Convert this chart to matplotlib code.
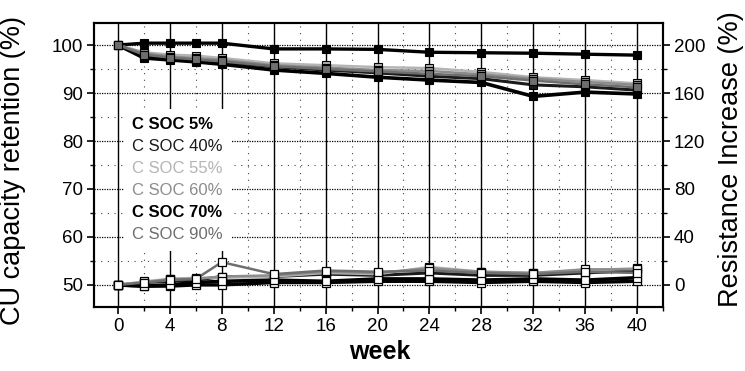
import matplotlib
matplotlib.use("Agg")
import matplotlib.pyplot as plt
from matplotlib.lines import Line2D
from matplotlib.ticker import MultipleLocator

plt.rcParams["font.family"] = ["Liberation Sans", "DejaVu Sans"]

# semaines de mesure
weeks = [0, 2, 4, 6, 8, 12, 16, 20, 24, 28, 32, 36, 40]

labels = ["C SOC 5%", "C SOC 40%", "C SOC 55%", "C SOC 60%", "C SOC 70%", "C SOC 90%"]

# retention de capacite (%)
cap_soc5 = [100, 100.4, 100.4, 100.4, 100.4, 99.2, 99.2, 99.1, 98.5, 98.4, 98.3, 98.1, 97.9]
cap_soc40 = [100, 97.8, 97.3, 96.9, 96.5, 95.5, 94.8, 94.2, 93.5, 93.0, 91.7, 91.3, 90.6]
cap_soc55 = [100, 98.5, 98.0, 97.8, 97.3, 96.2, 95.8, 95.4, 95.2, 94.4, 93.3, 92.7, 92.0]
cap_soc60 = [100, 98.3, 97.6, 97.3, 96.9, 95.8, 95.3, 94.8, 94.6, 93.9, 93.0, 92.3, 91.7]
cap_soc70 = [100, 97.3, 96.9, 96.5, 96.0, 94.8, 94.1, 93.3, 92.7, 92.2, 89.3, 90.2, 89.8]
cap_soc90 = [100, 98.0, 97.4, 97.0, 96.6, 95.6, 95.0, 94.5, 94.0, 93.5, 92.6, 91.8, 91.2]

# augmentation de resistance (%)
res_soc5 = [0, -1, -1, 0, 0, 2, 2, 3, 3, 2, 3, 2, 3]
res_soc40 = [0, 2, 3, 4, 7, 7, 9, 8, 10, 8, 8, 10, 12]
res_soc55 = [0, 3, 5, 6, 6, 7, 10, 9, 15, 11, 10, 12, 14]
res_soc60 = [0, 2, 5, 5, 7, 8, 11, 10, 14, 11, 10, 13, 13]
res_soc70 = [0, -1, 0, 2, 3, 4, 3, 5, 5, 4, 5, 4, 6]
res_soc90 = [0, 2, 4, 5, 19, 9, 12, 11, 12, 10, 9, 11, 10]

capacity = [cap_soc5, cap_soc40, cap_soc55, cap_soc60, cap_soc70, cap_soc90]
resistance = [res_soc5, res_soc40, res_soc55, res_soc60, res_soc70, res_soc90]

colors = ["black", "#1a1a1a", "#b4b4b4", "#8c8c8c", "black", "#6e6e6e"]
widths = [2.4, 2.2, 1.8, 1.8, 2.6, 1.8]
bold = [True, False, False, False, True, False]

fig = plt.figure(figsize=(7.45, 3.71), dpi=100)
ax = fig.add_axes([94 / 745, 64 / 371, 569 / 745, 284 / 371])
ax2 = ax.twinx()

ylo, yhi = 45.4, 104.6
ax.set_xlim(-1.85, 42.0)
ax.set_ylim(ylo, yhi)
ax2.set_ylim((ylo - 50) * 4, (yhi - 50) * 4)

# grille: verticales pleines toutes les 4 semaines, le reste en pointille
ax.xaxis.set_major_locator(MultipleLocator(4))
ax.xaxis.set_minor_locator(MultipleLocator(2))
ax.yaxis.set_major_locator(MultipleLocator(10))
ax.yaxis.set_minor_locator(MultipleLocator(5))
ax2.yaxis.set_major_locator(MultipleLocator(40))
ax2.yaxis.set_minor_locator(MultipleLocator(20))
ax.set_yticks(range(50, 101, 10))
ax2.set_yticks(range(0, 201, 40))

ax.grid(axis="x", which="major", color="black", lw=1.0, ls="-")
ax.grid(axis="y", which="major", color="black", lw=0.9, ls=(0, (1, 1)))
ax.grid(which="minor", color="#444444", lw=0.8, ls=(0, (1, 5)))
ax.set_axisbelow(True)

for c, r, col, lw in zip(capacity, resistance, colors, widths):
    ax.plot(weeks, c, color=col, lw=lw, marker="s", ms=5.5, mfc=col, mec="black", mew=0.8, zorder=3)
    ax2.plot(weeks, r, color=col, lw=lw, marker="s", ms=5.5, mfc="white", mec="black", mew=0.9, zorder=3)

for a in (ax, ax2):
    for s in a.spines.values():
        s.set_linewidth(1.5)
ax.tick_params(axis="both", which="major", direction="out", length=5, width=1.2, labelsize=13.5, pad=3)
ax.tick_params(axis="both", which="minor", direction="out", length=3, width=1.0)
ax2.tick_params(axis="y", which="major", direction="out", length=5, width=1.2, labelsize=13.5, pad=3)
ax2.tick_params(axis="y", which="minor", direction="out", length=3, width=1.0)

ax.set_ylabel("CU capacity retention (%)", fontsize=19.5, va="center")
ax.yaxis.set_label_coords(-0.142, 0.482)
ax2.set_ylabel("Resistance Increase (%)", fontsize=19.5, va="center", rotation=90)
ax2.yaxis.set_label_coords(1.12, 0.521)
ax.set_xlabel("week", fontsize=18, fontweight="bold", va="center")
ax.xaxis.set_label_coords(0.503, -0.158)

# legende texte seul, couleur de chaque serie
handles = [Line2D([], [], lw=0) for _ in labels]
leg = ax2.legend(handles, labels, loc="upper left", bbox_to_anchor=(0.0527, 0.697),
                 borderaxespad=0, borderpad=0.5, handlelength=0, handletextpad=0,
                 labelspacing=0.42, fontsize=12, frameon=True, fancybox=False,
                 labelcolor=colors)
leg.get_frame().set_facecolor("white")
leg.get_frame().set_edgecolor("none")
leg.get_frame().set_alpha(1)
for t, b in zip(leg.get_texts(), bold):
    if b:
        t.set_fontweight("bold")

fig.savefig("out.png", dpi=100)
